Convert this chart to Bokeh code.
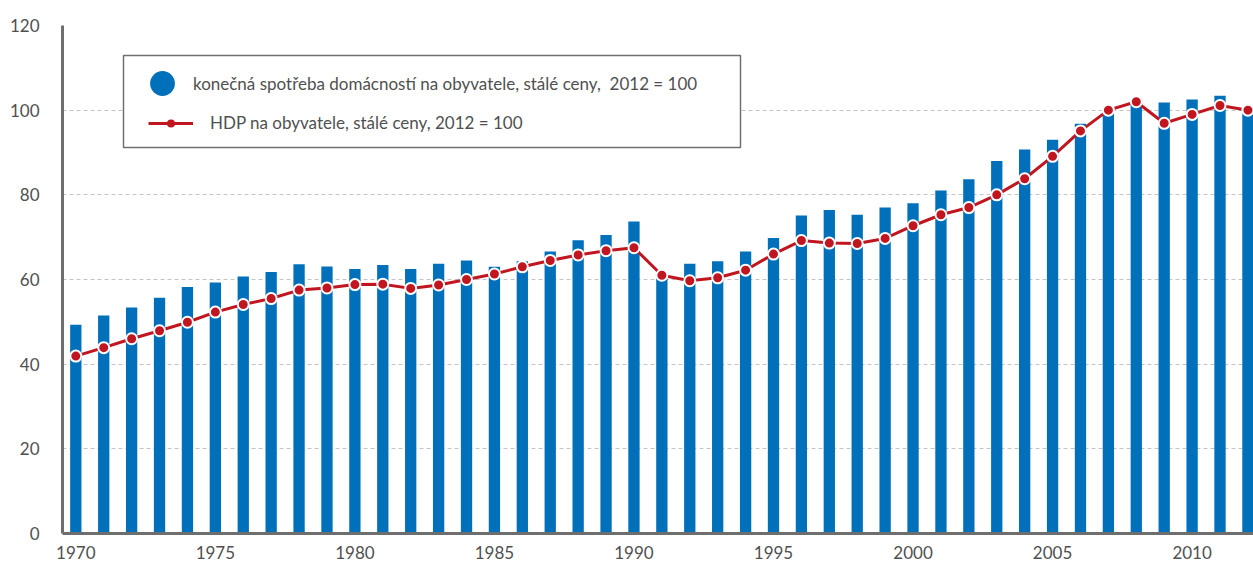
from bokeh.plotting import figure
from bokeh.models import (Range1d, FixedTicker, Legend, LegendItem,
                          BoxAnnotation, ColumnDataSource)
from bokeh.embed import file_html
from bokeh.resources import INLINE

# ---------------- data ----------------
years = list(range(1970, 2013))

consumption = [49.3, 51.5, 53.4, 55.7, 58.2, 59.3, 60.7, 61.8, 63.6, 63.1,
               62.5, 63.4, 62.5, 63.7, 64.5, 63.0, 64.3, 66.6, 69.3, 70.5,
               73.7, 61.0, 63.7, 64.3, 66.6, 69.8, 75.1, 76.4, 75.3, 77.0,
               78.0, 81.0, 83.7, 88.0, 90.7, 93.0, 96.8, 99.8, 101.4, 101.8,
               102.5, 103.4, 100.0]

gdp = [41.9, 43.9, 46.0, 47.9, 49.9, 52.3, 54.1, 55.5, 57.5, 58.0,
       58.8, 58.9, 57.9, 58.7, 60.0, 61.3, 63.0, 64.5, 65.8, 66.8,
       67.5, 61.0, 59.7, 60.4, 62.2, 66.0, 69.2, 68.6, 68.5, 69.7,
       72.7, 75.3, 77.0, 80.0, 83.8, 89.1, 95.1, 100.0, 102.0, 96.9,
       99.0, 101.1, 100.0]

x_ticks = [1970, 1975, 1980, 1985, 1990, 1995, 2000, 2005, 2010]
y_ticks = [0, 20, 40, 60, 80, 100, 120]

label_cons = "konečná spotřeba domácností na obyvatele, stálé ceny,  2012 = 100"
label_gdp = "HDP na obyvatele, stálé ceny, 2012 = 100"

# ---------------- style ----------------
FONT = "Lato"
FSIZE = "17px"
TEXT = "#505050"
BLUE = "#0070bb"
RED = "#c1161f"
AXIS = "#6e6e6e"

p = figure(width=1253, height=562, output_backend="svg", toolbar_location=None,
           x_range=Range1d(1969.523, 2012.2), y_range=Range1d(0, 120),
           min_border_left=62, min_border_right=0, min_border_top=25,
           min_border_bottom=29)
p.outline_line_color = None
p.background_fill_color = "white"
p.border_fill_color = "white"

src = ColumnDataSource(dict(year=years, cons=consumption, gdp=gdp))

p.vbar(x="year", top="cons", width=0.405, source=src,
       fill_color=BLUE, line_color=None)
p.line("year", "gdp", source=src, line_color=RED, line_width=3)
p.scatter("year", "gdp", source=src, size=11, fill_color=RED,
          line_color="white", line_width=2)

# legend proxies (a single NaN point: nothing is drawn on the plot)
nan_src = ColumnDataSource(dict(x=[float("nan")], y=[float("nan")]))
proxy_dot = p.scatter("x", "y", source=nan_src, fill_color=BLUE, line_color=None)
proxy_line = p.line("x", "y", source=nan_src, line_color=RED, line_width=3)
proxy_ldot = p.scatter("x", "y", source=nan_src, fill_color=RED, line_color=None)

# axes
p.xaxis.ticker = FixedTicker(ticks=x_ticks)
p.yaxis.ticker = FixedTicker(ticks=y_ticks)
for ax in (p.xaxis[0], p.yaxis[0]):
    ax.axis_line_color = AXIS
    ax.axis_line_width = 3
    ax.major_tick_line_color = None
    ax.minor_tick_line_color = None
    ax.major_tick_out = 0
    ax.major_tick_in = 0
    ax.major_label_text_font = FONT
    ax.major_label_text_font_size = FSIZE
    ax.major_label_text_color = TEXT
p.xaxis.major_label_standoff = 12
p.yaxis.major_label_standoff = 23

p.xgrid.visible = False
p.ygrid.grid_line_color = "#c4c4c4"
p.ygrid.grid_line_dash = "4 3"
p.ygrid.grid_line_width = 1

# legend frame
box = BoxAnnotation(left=61, right=678, top=478, bottom=386,
                    left_units="screen", right_units="screen",
                    top_units="screen", bottom_units="screen",
                    fill_color="white", fill_alpha=1.0,
                    line_color="#707070", line_alpha=1.0, line_width=1.5)
p.add_layout(box)

common = dict(padding=0, margin=0, border_line_color=None,
              background_fill_alpha=0.0, label_text_font=FONT,
              label_text_font_size=FSIZE, label_text_color=TEXT)

legA = Legend(items=[LegendItem(label=label_cons, renderers=[proxy_dot])],
              location=(69, 419), glyph_width=62, glyph_height=62,
              label_standoff=0, **common)
legB = Legend(items=[LegendItem(label=label_gdp, renderers=[proxy_line, proxy_ldot])],
              location=(86, 400), glyph_width=45, glyph_height=20,
              label_standoff=17, **common)
p.add_layout(legA, "center")
p.add_layout(legB, "center")

open("out.html", "w").write(file_html(p, INLINE))
